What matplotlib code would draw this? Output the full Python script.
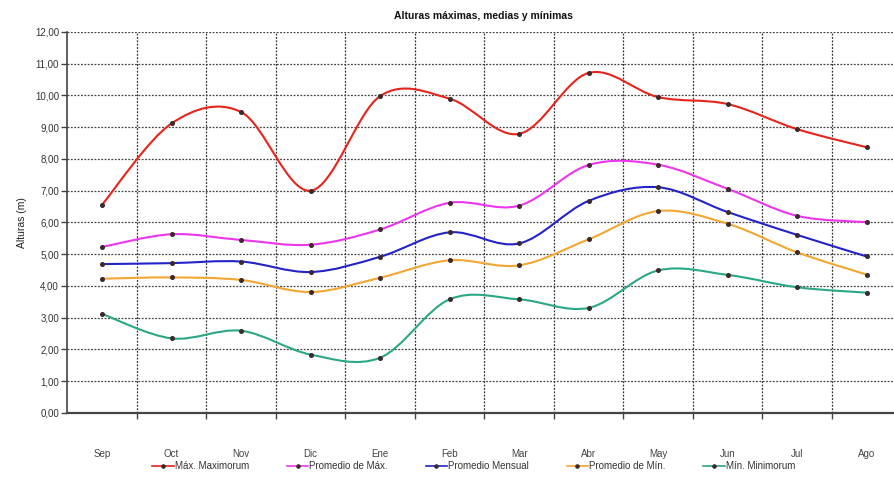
import matplotlib
matplotlib.use("Agg")
import matplotlib.pyplot as plt
from matplotlib.path import Path
from matplotlib.patches import PathPatch
from matplotlib.lines import Line2D
from matplotlib.ticker import FixedLocator, FuncFormatter

months = ["Sep", "Oct", "Nov", "Dic", "Ene", "Feb", "Mar", "Abr", "May", "Jun", "Jul", "Ago"]
max_maximorum = [6.56, 9.12, 9.48, 7.00, 9.98, 9.90, 8.79, 10.71, 9.95, 9.73, 8.94, 8.37]
promedio_max = [5.23, 5.63, 5.45, 5.30, 5.78, 6.62, 6.53, 7.81, 7.82, 7.06, 6.21, 6.01]
promedio_mensual = [4.69, 4.72, 4.77, 4.44, 4.92, 5.69, 5.34, 6.68, 7.11, 6.33, 5.61, 4.93]
promedio_min = [4.23, 4.27, 4.19, 3.81, 4.26, 4.81, 4.65, 5.47, 6.36, 5.96, 5.06, 4.36]
min_minimorum = [3.12, 2.35, 2.59, 1.84, 1.74, 3.58, 3.58, 3.31, 4.49, 4.35, 3.96, 3.79]

series = [
    ("Máx. Maximorum", max_maximorum, "#e8231c"),
    ("Promedio de Máx.", promedio_max, "#ee35ee"),
    ("Promedio Mensual", promedio_mensual, "#2323c8"),
    ("Promedio de Mín.", promedio_min, "#f3a632"),
    ("Mín. Minimorum", min_minimorum, "#2aa886"),
]
yticks = [0, 1, 2, 3, 4, 5, 6, 7, 8, 9, 10, 11, 12]

plt.rcParams['font.family'] = ['Liberation Sans', 'DejaVu Sans']

fig = plt.figure(figsize=(8.94, 4.79), dpi=100)
ax = fig.add_axes([0.0753, 0.1378, 0.9329, 0.7954])

def smooth_path(xs, ys):
    verts = [(xs[0], ys[0])]
    codes = [Path.MOVETO]
    n = len(xs)
    for i in range(n - 1):
        i0 = max(i - 1, 0)
        i3 = min(i + 2, n - 1)
        c1 = (xs[i] + (xs[i + 1] - xs[i0]) / 6.0, ys[i] + (ys[i + 1] - ys[i0]) / 6.0)
        c2 = (xs[i + 1] - (xs[i3] - xs[i]) / 6.0, ys[i + 1] - (ys[i3] - ys[i]) / 6.0)
        verts += [c1, c2, (xs[i + 1], ys[i + 1])]
        codes += [Path.CURVE4, Path.CURVE4, Path.CURVE4]
    return Path(verts, codes)

x = list(range(len(months)))
handles = []
for name, vals, col in series:
    patch = PathPatch(smooth_path(x, vals), facecolor="none", edgecolor=col, lw=1.5, zorder=3)
    ax.add_patch(patch)
    ax.plot(x, vals, linestyle="none", marker="o", ms=2.6, color="#3a2a2a", zorder=4)
    handles.append(Line2D([], [], color=col, lw=1.2, marker="o", ms=2.3,
                          markerfacecolor="#3a2a2a", markeredgecolor="#3a2a2a"))

ax.set_xlim(-0.5, len(months) - 0.5)
ax.set_ylim(0, 12)
ax.set_yticks(yticks)
ax.yaxis.set_major_formatter(FuncFormatter(lambda v, p: f"{v:.2f}".replace(".", ",")))
ax.set_xticks(x)
ax.set_xticklabels(months)
ax.xaxis.set_minor_locator(FixedLocator([i + 0.5 for i in range(len(months) - 1)]))
ax.tick_params(axis="x", which="major", length=0, pad=26, labelsize=7, colors="#444444")
ax.tick_params(axis="x", which="minor", length=4, width=1, color="#444444")
ax.tick_params(axis="y", length=4, width=1, color="#444444", labelsize=7, labelcolor="#333333", pad=2)

ax.grid(True, which="minor", axis="x", color="#333333", linestyle=(0, (1.5, 1.2)), lw=0.9)
ax.grid(True, which="major", axis="y", color="#444444", linestyle=(0, (1.5, 1.2)), lw=0.9)
ax.grid(False, which="major", axis="x")
ax.set_axisbelow(True)

for s in ["top", "right"]:
    ax.spines[s].set_visible(False)
ax.spines["left"].set_color("#444444")
ax.spines["left"].set_linewidth(1.2)
ax.spines["bottom"].set_color("#444444")
ax.spines["bottom"].set_linewidth(1.6)

ax.set_ylabel("Alturas (m)", fontsize=7.5, color="#222222", labelpad=6)
fig.text(0.541, 0.967, "Alturas máximas, medias y mínimas", ha="center", va="center",
         fontsize=7.5, fontweight="bold", color="#111111")

fig.legend(handles, [s[0] for s in series], loc="center", bbox_to_anchor=(0.53, 0.027),
           ncol=5, frameon=False, fontsize=7, handlelength=2.2, handletextpad=0.1,
           columnspacing=3.9, labelcolor="#333333")

fig.savefig("out.png", dpi=100)
